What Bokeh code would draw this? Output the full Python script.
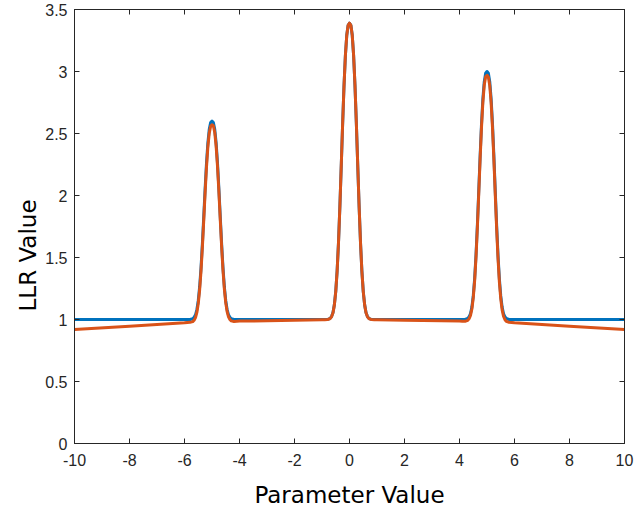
from bokeh.plotting import figure
from bokeh.models import LinearAxis, Range1d, FixedTicker, Title
from bokeh.embed import file_html
from bokeh.resources import INLINE

# sample positions: coarse baseline points plus dense points around each peak
peak_centers = [-5, 0, 5]
peak_offsets = [-0.9, -0.8, -0.7, -0.65, -0.6, -0.55, -0.5, -0.45, -0.4, -0.35,
                -0.3, -0.25, -0.2, -0.15, -0.1, -0.05, 0.0, 0.05, 0.1, 0.15, 0.2,
                0.25, 0.3, 0.35, 0.4, 0.45, 0.5, 0.55, 0.6, 0.65, 0.7, 0.8, 0.9]
left_base_x = [-10, -8, -6]
mid_left_x = [-4, -2, -1]
mid_right_x = [1, 2, 4]
right_base_x = [6, 8, 10]

# series 1 (blue) values
blue_left = [1.0, 1.0, 1.0]
blue_pk1 = [1.000, 1.000, 1.006, 1.018, 1.038, 1.080, 1.152, 1.262, 1.416, 1.610,
            1.830, 2.056, 2.261, 2.424, 2.534, 2.589, 2.600, 2.589, 2.534, 2.424,
            2.261, 2.056, 1.830, 1.610, 1.416, 1.262, 1.152, 1.080, 1.038, 1.018,
            1.006, 1.000, 1.000]
blue_mid1 = [1.0, 1.0, 1.0]
blue_pk2 = [1.000, 1.000, 1.010, 1.026, 1.057, 1.120, 1.227, 1.392, 1.621, 1.911,
            2.240, 2.577, 2.883, 3.127, 3.292, 3.373, 3.390, 3.373, 3.292, 3.127,
            2.883, 2.577, 2.240, 1.911, 1.621, 1.392, 1.227, 1.120, 1.057, 1.026,
            1.010, 1.000, 1.000]
blue_mid2 = [1.0, 1.0, 1.0]
blue_pk3 = [1.000, 1.000, 1.008, 1.022, 1.048, 1.100, 1.190, 1.328, 1.520, 1.762,
            2.038, 2.320, 2.576, 2.780, 2.918, 2.986, 3.000, 2.986, 2.918, 2.780,
            2.576, 2.320, 2.038, 1.762, 1.520, 1.328, 1.190, 1.100, 1.048, 1.022,
            1.008, 1.000, 1.000]
blue_right = [1.0, 1.0, 1.0]

# series 2 (orange) values
orange_left = [0.920, 0.946, 0.973]
orange_pk1 = [0.976, 0.977, 0.983, 0.994, 1.015, 1.057, 1.128, 1.238, 1.390, 1.583,
              1.802, 2.026, 2.231, 2.393, 2.503, 2.558, 2.570, 2.562, 2.508, 2.398,
              2.236, 2.032, 1.808, 1.589, 1.396, 1.244, 1.134, 1.063, 1.021, 1.000,
              0.989, 0.984, 0.985]
orange_mid1 = [0.987, 0.993, 0.998]
orange_pk2 = [0.998, 0.999, 1.008, 1.024, 1.055, 1.118, 1.225, 1.390, 1.620, 1.910,
              2.240, 2.577, 2.883, 3.127, 3.292, 3.373, 3.390, 3.373, 3.292, 3.127,
              2.883, 2.577, 2.240, 1.910, 1.620, 1.390, 1.225, 1.118, 1.055, 1.024,
              1.008, 0.999, 0.998]
orange_mid2 = [0.998, 0.993, 0.987]
orange_pk3 = [0.985, 0.985, 0.993, 1.007, 1.033, 1.085, 1.174, 1.311, 1.502, 1.743,
              2.017, 2.296, 2.551, 2.754, 2.891, 2.958, 2.970, 2.955, 2.886, 2.749,
              2.546, 2.291, 2.011, 1.736, 1.495, 1.304, 1.167, 1.078, 1.026, 1.000,
              0.985, 0.978, 0.976]
orange_right = [0.973, 0.946, 0.920]

x_ticks = [-10, -8, -6, -4, -2, 0, 2, 4, 6, 8, 10]
y_ticks = [0, 0.5, 1, 1.5, 2, 2.5, 3, 3.5]
y_tick_labels = {0: "0", 0.5: "0.5", 1: "1", 1.5: "1.5", 2: "2", 2.5: "2.5", 3: "3", 3.5: "3.5"}
x_tick_labels = {v: str(v) for v in x_ticks}


def peak_x(c):
    return [round(c + o, 2) for o in peak_offsets]


xs = (left_base_x + peak_x(peak_centers[0]) + mid_left_x + peak_x(peak_centers[1])
      + mid_right_x + peak_x(peak_centers[2]) + right_base_x)
blue_y = blue_left + blue_pk1 + blue_mid1 + blue_pk2 + blue_mid2 + blue_pk3 + blue_right
orange_y = (orange_left + orange_pk1 + orange_mid1 + orange_pk2 + orange_mid2
            + orange_pk3 + orange_right)

AX = "#262626"

p = figure(width=634, height=510, output_backend="svg", toolbar_location=None,
           x_range=Range1d(-10, 10), y_range=Range1d(0, 3.5),
           min_border_left=74, min_border_right=10, min_border_top=9,
           min_border_bottom=66)
p.background_fill_color = "white"
p.border_fill_color = "white"
p.outline_line_color = AX
p.outline_line_width = 1
p.grid.visible = False

p.line(xs, blue_y, line_color="#0072BD", line_width=3, line_join="round")
p.line(xs, orange_y, line_color="#D95319", line_width=3, line_join="round")

TICK_FONT = "Liberation Sans"
for ax, ticks, labels in ((p.xaxis[0], x_ticks, x_tick_labels), (p.yaxis[0], y_ticks, y_tick_labels)):
    ax.ticker = FixedTicker(ticks=ticks)
    ax.major_label_overrides = labels
    ax.major_tick_in = 5
    ax.major_tick_out = 0
    ax.minor_tick_line_color = None
    ax.axis_line_color = AX
    ax.major_tick_line_color = AX
    ax.major_label_text_font = TICK_FONT
    ax.major_label_text_font_size = "16px"
    ax.major_label_text_color = AX

p.xaxis[0].major_label_standoff = 10
p.yaxis[0].major_label_standoff = 7

p.xaxis[0].axis_label = "Parameter Value"
p.xaxis[0].axis_label_text_font = "DejaVu Sans"
p.xaxis[0].axis_label_text_font_size = "23px"
p.xaxis[0].axis_label_text_font_style = "normal"
p.xaxis[0].axis_label_text_color = "black"
p.xaxis[0].axis_label_standoff = 13

ylab = Title(text="LLR Value", align="left", offset=132, text_font="DejaVu Sans",
             text_font_size="23px", text_font_style="normal", text_color="black",
             standoff=4)
p.add_layout(ylab, "left")

for side, ticks in (("above", x_ticks), ("right", y_ticks)):
    a = LinearAxis(ticker=FixedTicker(ticks=ticks))
    a.major_tick_in = 5
    a.major_tick_out = 0
    a.minor_tick_line_color = None
    a.axis_line_color = AX
    a.major_tick_line_color = AX
    a.major_label_overrides = {t: "" for t in ticks}
    a.major_label_standoff = 0
    p.add_layout(a, side)

open("out.html", "w").write(file_html(p, INLINE))
